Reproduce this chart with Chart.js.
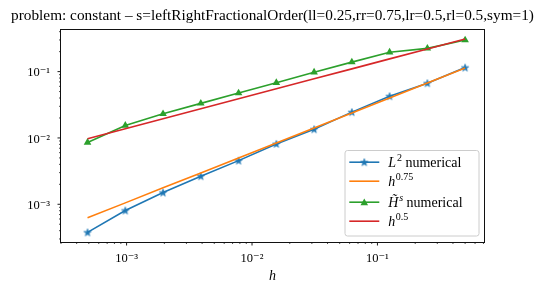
<!DOCTYPE html>
<html><head><meta charset="utf-8">
<script src="https://cdn.jsdelivr.net/npm/chart.js@4.4.0/dist/chart.umd.min.js"></script>
<style>html,body{margin:0;padding:0;background:#fff;}canvas{display:block;}</style>
</head><body>
<canvas id="c" width="545" height="293"></canvas>
<script>
// ---- data ----
const hValues = [0.00048828125, 0.0009765625, 0.001953125, 0.00390625, 0.0078125, 0.015625, 0.03125, 0.0625, 0.125, 0.25, 0.5];
const l2Numerical = [0.000377, 0.000805, 0.00150, 0.00265, 0.00455, 0.00813, 0.0135, 0.0245, 0.0426, 0.0668, 0.115];
const h075Ref = [0.000624, 0.00105, 0.00177, 0.00297, 0.00499, 0.0084, 0.0141, 0.0238, 0.0399, 0.0672, 0.113];
const hsNumerical = [0.00855, 0.0154, 0.0231, 0.0332, 0.0475, 0.068, 0.098, 0.139, 0.196, 0.224, 0.299];
const h05Ref = [0.00972, 0.01375, 0.01945, 0.0275, 0.0389, 0.055, 0.0778, 0.11, 0.1556, 0.22, 0.311];
const seriesLabels = ['L² numerical', 'h^0.75', 'H̃ˢ numerical', 'h^0.5'];
const xTickValues = [1e-3, 1e-2, 1e-1];
const xTickLabels = ['10⁻³', '10⁻²', '10⁻¹'];
const yTickValues = [1e-3, 1e-2, 1e-1];
const yTickLabels = ['10⁻³', '10⁻²', '10⁻¹'];
const titleText = 'problem: constant – s=leftRightFractionalOrder(ll=0.25,rr=0.75,lr=0.5,rl=0.5,sym=1)';
const xTitle = 'h';

const COLORS = ['#1f77b4', '#ff7f0e', '#2ca02c', '#d62728'];
const SERIF = "'Liberation Serif', 'DejaVu Serif', serif";

function makeStar(color, R) {
  const s = 10;
  const c = document.createElement('canvas');
  c.width = s; c.height = s;
  const g = c.getContext('2d');
  g.fillStyle = color; g.strokeStyle = color; g.lineWidth = 0.8; g.lineJoin = 'miter';
  g.beginPath();
  for (let i = 0; i < 10; i++) {
    const r = i % 2 ? R * 0.382 : R;
    const a = -Math.PI / 2 + i * Math.PI / 5;
    const px = s / 2 + r * Math.cos(a), py = s / 2 + 0.3 + r * Math.sin(a);
    if (i) g.lineTo(px, py); else g.moveTo(px, py);
  }
  g.closePath(); g.fill(); g.stroke();
  return c;
}
const starImg = makeStar(COLORS[0], 3.8);

function pts(ys) { return hValues.map((x, i) => ({x: x, y: ys[i]})); }
function labelFor(values, labels) {
  return function (v) {
    for (let i = 0; i < values.length; i++) {
      if (Math.abs(v / values[i] - 1) < 1e-6) return labels[i];
    }
    return '';
  };
}
function tickInfo(v) {
  const e = Math.floor(Math.log10(v) + 1e-9);
  const m = v / Math.pow(10, e);
  const r = Math.round(m);
  if (Math.abs(m - r) > 1e-6 || r < 1 || r > 9) return null;
  return {major: r === 1};
}

function drawTriangle(ctx, x, y, r) {
  ctx.beginPath();
  for (let i = 0; i < 3; i++) {
    const a = i * 2 * Math.PI / 3;
    const px = x + Math.sin(a) * r, py = y - Math.cos(a) * r;
    if (i) ctx.lineTo(px, py); else ctx.moveTo(px, py);
  }
  ctx.closePath(); ctx.fill();
}

function drawRich(ctx, parts, x, y) {
  for (const p of parts) {
    const size = p.sup ? 10 : 14;
    ctx.font = (p.it ? 'italic ' : '') + size + 'px ' + SERIF;
    ctx.fillText(p.t, x, p.sup ? y - 5.5 : y);
    x += ctx.measureText(p.t).width + (p.gap || 0);
  }
}

const legendRows = [
  {parts: [{t: 'L', it: true, gap: 0.8}, {t: '2', sup: true}, {t: ' numerical'}], marker: 'star'},
  {parts: [{t: 'h', it: true, gap: 0.5}, {t: '0.75', sup: true}], marker: null},
  {parts: [{t: 'H\u0303', it: true, gap: 0.8}, {t: 's', sup: true, it: true}, {t: ' numerical'}], marker: 'tri'},
  {parts: [{t: 'h', it: true, gap: 0.5}, {t: '0.5', sup: true}], marker: null}
];

const decor = {
  id: 'decor',
  afterDatasetsDraw(chart) {
    const {ctx, chartArea: a, scales} = chart;
    ctx.save();
    ctx.strokeStyle = '#000';
    // tick marks
    for (const t of scales.x.ticks) {
      const info = tickInfo(t.value); if (!info) continue;
      const px = scales.x.getPixelForValue(t.value);
      if (px < a.left - 0.5 || px > a.right + 0.5) continue;
      const len = info.major ? 3.5 : 2;
      ctx.lineWidth = info.major ? 0.9 : 0.7;
      ctx.beginPath(); ctx.moveTo(px, a.bottom); ctx.lineTo(px, a.bottom + len); ctx.stroke();
    }
    for (const t of scales.y.ticks) {
      const info = tickInfo(t.value); if (!info) continue;
      const py = scales.y.getPixelForValue(t.value);
      if (py < a.top - 0.5 || py > a.bottom + 0.5) continue;
      const len = info.major ? 3.5 : 2;
      ctx.lineWidth = info.major ? 0.9 : 0.7;
      ctx.beginPath(); ctx.moveTo(a.left - len, py); ctx.lineTo(a.left, py); ctx.stroke();
    }
    // frame
    ctx.lineWidth = 1;
    ctx.strokeStyle = '#111';
    ctx.strokeRect(Math.round(a.left) - 0.5, Math.round(a.top) - 0.5,
                   Math.round(a.right) - Math.round(a.left) + 1, Math.round(a.bottom) - Math.round(a.top) + 1);
    // legend
    const bx = a.right - 139, by = a.bottom - 91.5, bw = 134, bh = 85.5, rr = 2.5;
    ctx.beginPath();
    ctx.moveTo(bx + rr, by); ctx.lineTo(bx + bw - rr, by); ctx.arcTo(bx + bw, by, bx + bw, by + rr, rr);
    ctx.lineTo(bx + bw, by + bh - rr); ctx.arcTo(bx + bw, by + bh, bx + bw - rr, by + bh, rr);
    ctx.lineTo(bx + rr, by + bh); ctx.arcTo(bx, by + bh, bx, by + bh - rr, rr);
    ctx.lineTo(bx, by + rr); ctx.arcTo(bx, by, bx + rr, by, rr); ctx.closePath();
    ctx.fillStyle = 'rgba(255,255,255,0.8)'; ctx.fill();
    ctx.strokeStyle = '#cccccc'; ctx.lineWidth = 1; ctx.stroke();
    const rowY = [11.7, 30.7, 51.7, 70.7];
    legendRows.forEach((row, i) => {
      const y = by + rowY[i];
      const x0 = bx + 4.3, x1 = bx + 34.3;
      ctx.strokeStyle = COLORS[i]; ctx.lineWidth = 1.6;
      ctx.beginPath(); ctx.moveTo(x0, y); ctx.lineTo(x1, y); ctx.stroke();
      const cx = (x0 + x1) / 2;
      if (row.marker === 'star') ctx.drawImage(starImg, cx - starImg.width / 2, y - starImg.height / 2);
      if (row.marker === 'tri') { ctx.fillStyle = COLORS[i]; drawTriangle(ctx, cx, y + 0.8, 4.4); }
      ctx.fillStyle = '#000'; ctx.textBaseline = 'alphabetic'; ctx.textAlign = 'left';
      drawRich(ctx, row.parts, bx + 43.3, y + 4.5);
    });
    ctx.restore();
  }
};

new Chart(document.getElementById('c'), {
  type: 'scatter',
  data: {
    datasets: [
      {label: seriesLabels[0], data: pts(l2Numerical), showLine: true, borderColor: COLORS[0], borderWidth: 1.6,
       pointStyle: starImg, pointRadius: 4, pointBackgroundColor: COLORS[0], pointBorderColor: COLORS[0], order: 4},
      {label: seriesLabels[1], data: pts(h075Ref), showLine: true, borderColor: COLORS[1], borderWidth: 1.6,
       pointRadius: 0, order: 3},
      {label: seriesLabels[2], data: pts(hsNumerical), showLine: true, borderColor: COLORS[2], borderWidth: 1.6,
       pointStyle: 'triangle', pointRadius: 4.4, pointBackgroundColor: COLORS[2], pointBorderColor: COLORS[2],
       pointBorderWidth: 0, order: 2},
      {label: seriesLabels[3], data: pts(h05Ref), showLine: true, borderColor: COLORS[3], borderWidth: 1.6,
       pointRadius: 0, order: 1}
    ]
  },
  options: {
    responsive: false,
    animation: false,
    devicePixelRatio: 1,
    events: [],
    layout: {padding: 0},
    plugins: {
      legend: {display: false},
      tooltip: {enabled: false},
      title: {display: true, text: titleText, color: '#000',
              font: {family: SERIF, size: 15.3, weight: 'normal', lineHeight: 1.2},
              padding: {top: 6.5, bottom: 5.1}}
    },
    scales: {
      x: {type: 'logarithmic', position: 'bottom', min: 0.000345, max: 0.7071,
          grid: {display: false, drawTicks: false}, border: {display: false},
          ticks: {autoSkip: false, maxRotation: 0, minRotation: 0, padding: 8.8, color: '#000',
                  font: {family: SERIF, size: 12.5}, callback: labelFor(xTickValues, xTickLabels)},
          title: {display: true, text: xTitle, color: '#000', font: {family: SERIF, size: 14, style: 'italic', lineHeight: 1.2},
                  padding: {top: 0, bottom: 8.2}},
          afterFit(s) { s.height = 51; }},
      y: {type: 'logarithmic', position: 'left', min: 0.00027, max: 0.4246,
          grid: {display: false, drawTicks: false}, border: {display: false},
          ticks: {autoSkip: false, padding: 11, color: '#000', labelOffset: 1.5,
                  font: {family: SERIF, size: 12.5}, callback: labelFor(yTickValues, yTickLabels)},
          afterFit(s) { s.width = 61; }},
      yr: {type: 'linear', position: 'right', display: true,
           grid: {display: false, drawTicks: false}, border: {display: false}, ticks: {display: false},
           afterFit(s) { s.width = 61; }}
    }
  },
  plugins: [decor]
});
</script>
</body></html>
